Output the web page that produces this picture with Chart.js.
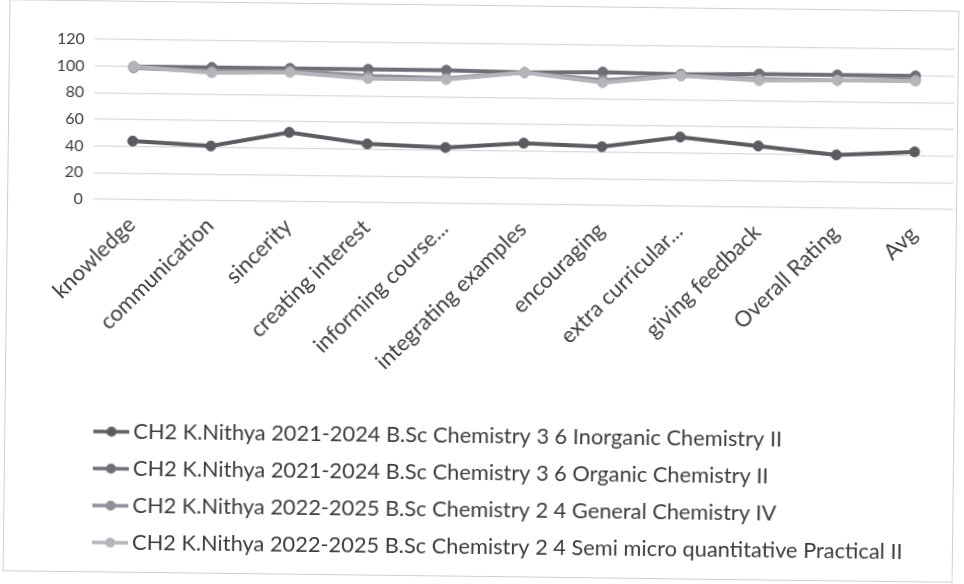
<!DOCTYPE html>
<html>
<head>
<meta charset="utf-8">
<script src="https://cdn.jsdelivr.net/npm/chart.js@4.4.1/dist/chart.umd.min.js"></script>
<style>
  html, body { margin: 0; padding: 0; background: #fff; }
  #wrap { position: relative; width: 964px; height: 584px; overflow: hidden; }
  /* the scan is turned a little clockwise */
  #sheet { position: absolute; left: 0; top: 0; width: 964px; height: 584px; transform: rotate(0.69deg); transform-origin: 482px 292px; }
  #frame { position: absolute; left: 6px; top: 5px; width: 950px; height: 572px; border: 1px solid #cfcfcf; box-sizing: border-box; }
  canvas { position: absolute; left: 0; top: 0; }
</style>
</head>
<body>
<div id="wrap">
  <div id="sheet">
    <div id="frame"></div>
    <canvas id="lineChart" width="964" height="584"></canvas>
  </div>
</div>
<script>
const categories = ['knowledge', 'communication', 'sincerity', 'creating interest', 'informing course...',
  'integrating examples', 'encouraging', 'extra curricular...', 'giving feedback', 'Overall Rating', 'Avg'];

const seriesNames = [
  'CH2 K.Nithya 2021-2024 B.Sc Chemistry 3 6 Inorganic Chemistry II',
  'CH2 K.Nithya 2021-2024 B.Sc Chemistry 3 6 Organic Chemistry II',
  'CH2 K.Nithya 2022-2025 B.Sc Chemistry 2 4 General Chemistry IV',
  'CH2 K.Nithya 2022-2025 B.Sc Chemistry 2 4 Semi micro quantitative Practical II'
];

// values
const inorganic = [44, 41, 52, 44, 42, 46, 44, 52, 46, 40, 43];
const organic = [100, 100, 100, 100, 100, 99, 100, 99, 100, 100, 100];
const generalChem = [99, 97, 98, 95, 94, 99, 94, 98, 96, 96, 97];
const semiMicro = [100, 96, 97, 93, 93, 99, 92, 98, 95, 96, 96];

const yTicks = [0, 20, 40, 60, 80, 100, 120];

const colors = ['#5b5b62', '#6e6e76', '#8d8e96', '#b4b5bb'];
const seriesData = [inorganic, organic, generalChem, semiMicro];

// little "line with dot" sample like the Excel legend
function legendIcon(color) {
  const c = document.createElement('canvas');
  c.width = 36;
  c.height = 12;
  const g = c.getContext('2d');
  g.strokeStyle = color;
  g.lineWidth = 3.5;
  g.beginPath();
  g.moveTo(0, 6);
  g.lineTo(36, 6);
  g.stroke();
  g.fillStyle = color;
  g.beginPath();
  g.arc(18, 6, 5, 0, Math.PI * 2);
  g.fill();
  return c;
}

const icons = colors.map(legendIcon);

// line the legend up under the plot like the original
const legendShift = {
  id: 'legendShift',
  afterLayout(chart) {
    const dx = chart.legend.left - 87;
    chart.legend.left -= dx;
    chart.legend.right -= dx;
  }
};

new Chart(document.getElementById('lineChart').getContext('2d'), {
  type: 'line',
  data: {
    labels: categories,
    datasets: seriesData.map((d, i) => ({
      label: seriesNames[i],
      data: d,
      borderColor: colors[i],
      backgroundColor: colors[i],
      borderWidth: 4,
      pointRadius: 5,
      pointBorderWidth: 1,
      pointBorderColor: colors[i],
      pointBackgroundColor: colors[i],
      tension: 0,
      fill: false,
      order: 4 - i
    }))
  },
  options: {
    responsive: false,
    animation: false,
    layout: { padding: { top: 44, left: 44, right: 12, bottom: 16 } },
    scales: {
      x: {
        offset: true,
        grid: { display: false },
        border: { display: false },
        afterFit: s => {
          s.height = 206;
          s.paddingLeft = 0;
          s.paddingRight = 0;
        },
        ticks: {
          autoSkip: false,
          minRotation: 45,
          maxRotation: 45,
          padding: 4,
          color: '#3f3f3f',
          font: { family: 'Lato', size: 22 }
        }
      },
      y: {
        min: 0,
        max: 120,
        afterBuildTicks: axis => { axis.ticks = yTicks.map(v => ({ value: v })); },
        grid: { color: '#d9d9d9', lineWidth: 1.2, drawTicks: false },
        border: { display: false },
        ticks: {
          padding: 10,
          color: '#3f3f3f',
          font: { family: 'Lato', size: 16 }
        }
      }
    },
    plugins: {
      tooltip: { enabled: false },
      legend: {
        position: 'bottom',
        align: 'start',
        fullSize: false,
        labels: {
          usePointStyle: true,
          pointStyleWidth: 22,
          boxHeight: 12,
          padding: 15.2,
          color: '#3c3c3c',
          font: { family: 'Lato', size: 21.8 },
          generateLabels: chart => chart.data.datasets.map((ds, i) => ({
            text: ds.label,
            fillStyle: ds.borderColor,
            strokeStyle: ds.borderColor,
            lineWidth: 0,
            pointStyle: icons[i],
            fontColor: '#3c3c3c',
            hidden: !chart.isDatasetVisible(i),
            datasetIndex: i
          }))
        }
      }
    }
  },
  plugins: [legendShift]
});
</script>
</body>
</html>
